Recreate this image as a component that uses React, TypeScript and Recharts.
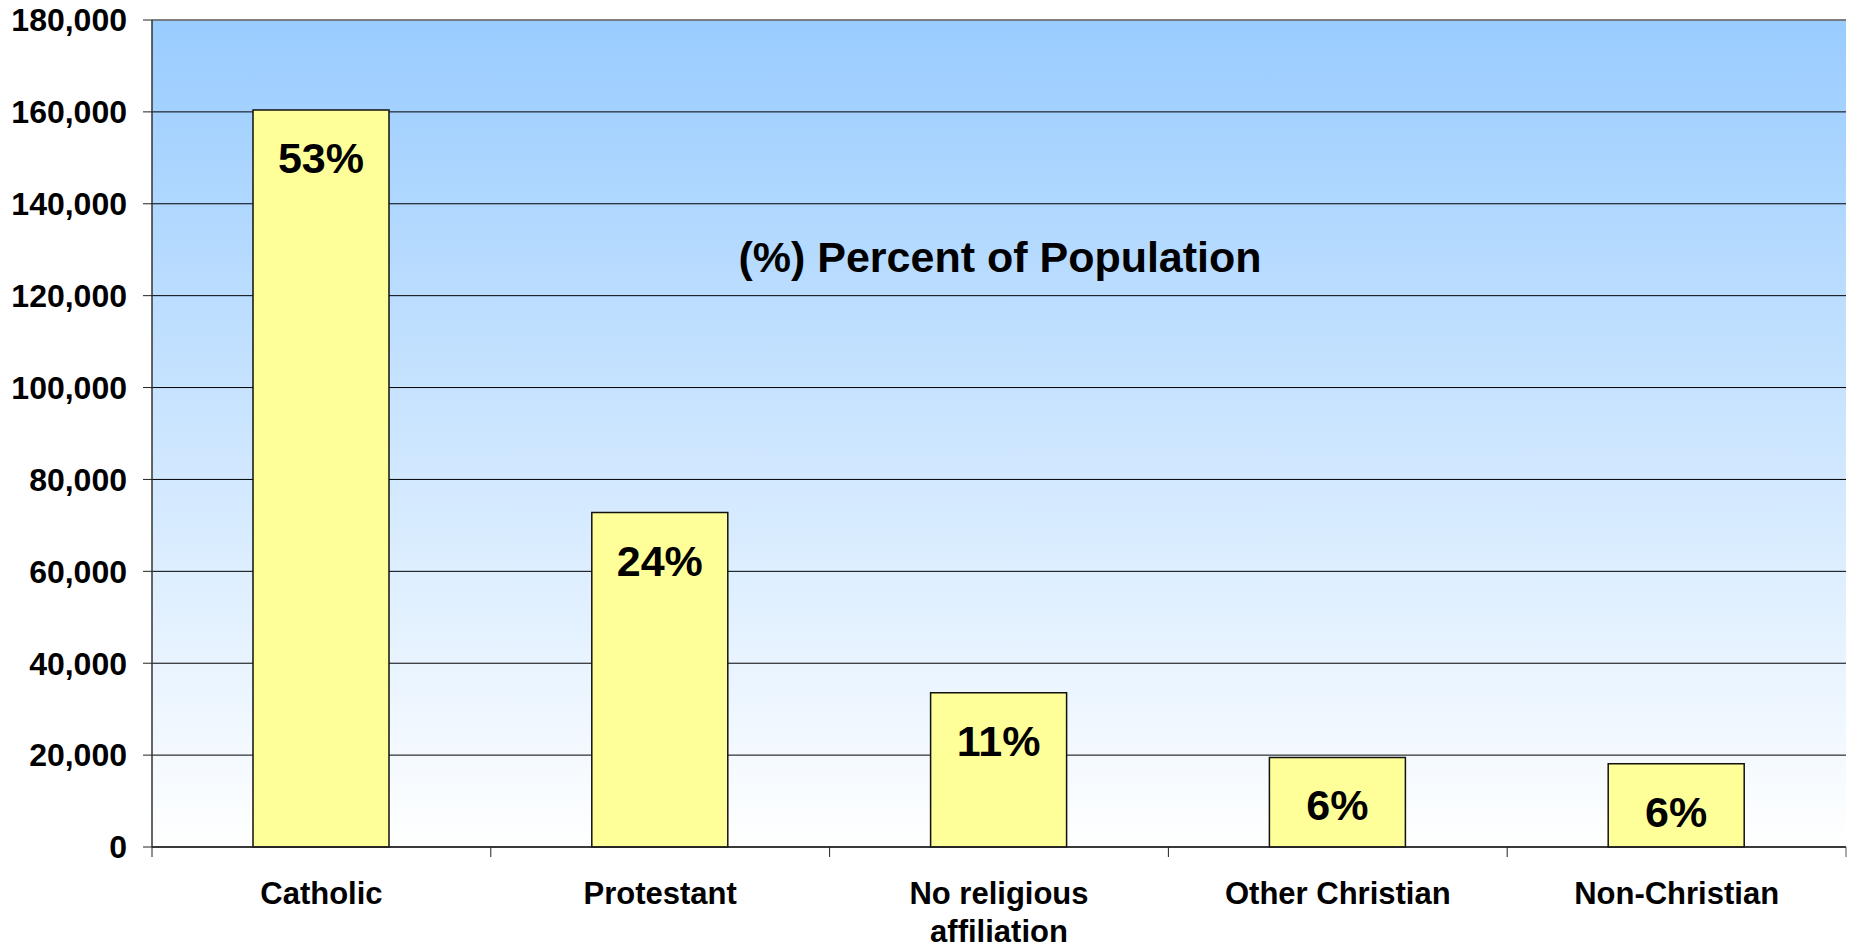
import {
    BarChart,
    Bar,
    XAxis,
    YAxis,
    CartesianGrid,
    LabelList,
    ReferenceLine,
} from "recharts";

const categories = [
    "Catholic",
    "Protestant",
    "No religious affiliation",
    "Other Christian",
    "Non-Christian",
];
const population = [160400, 72800, 33600, 19500, 18100];
const percentLabels = ["53%", "24%", "11%", "6%", "6%"];
const yTicks = [0, 20000, 40000, 60000, 80000, 100000, 120000, 140000, 160000, 180000];

const data = categories.map((name, i) => ({
    name,
    value: population[i],
    pct: percentLabels[i],
}));

const FONT = "'Liberation Sans', Arial, sans-serif";

// split long category names onto two lines like the original
function wrapLabel(label: string, max = 15) {
    const words = label.split(" ");
    const lines: string[] = [];
    let cur = "";
    words.forEach((w) => {
        const next = cur ? cur + " " + w : w;
        if (next.length > max && cur) {
            lines.push(cur);
            cur = w;
        } else {
            cur = next;
        }
    });
    if (cur) lines.push(cur);
    return lines;
}

function CategoryTick(props: any) {
    const { x, y, payload, index, width } = props;
    const band = (width || 1694) / categories.length;
    const lines = wrapLabel(String(payload.value));
    const left = x - band / 2;
    const right = x + band / 2;
    return (
        <g>
            <line x1={left} x2={left} y1={y} y2={y + 10} stroke="#222" strokeWidth={1} />
            {index === categories.length - 1 && (
                <line x1={right} x2={right} y1={y} y2={y + 10} stroke="#555" strokeWidth={1} />
            )}
            {lines.map((ln, i) => (
                <text
                    key={i}
                    x={x}
                    y={y + 46 + i * 38}
                    dy="0.35em"
                    textAnchor="middle"
                    fontFamily={FONT}
                    fontWeight="bold"
                    fontSize={31}
                    fill="#000"
                >
                    {ln}
                </text>
            ))}
        </g>
    );
}

function PctLabel(props: any) {
    const { x, y, width, value } = props;
    return (
        <text
            x={x + width / 2}
            y={y + 48}
            dy="0.35em"
            textAnchor="middle"
            fontFamily={FONT}
            fontWeight="bold"
            fontSize={43}
            fill="#000"
        >
            {value}
        </text>
    );
}

export default function App() {
    return (
        <div style={wrapStyle}>
            <BarChart
                width={1852}
                height={950}
                data={data}
                margin={{ top: 20, right: 6, bottom: 0, left: 0 }}
            >
                <defs>
                    <linearGradient id="plotBg" x1="0" y1="0" x2="0" y2="1">
                        <stop offset="0%" stopColor="#99ccff" />
                        <stop offset="100%" stopColor="#ffffff" />
                    </linearGradient>
                </defs>
                <CartesianGrid
                    yAxisId="left"
                    vertical={false}
                    stroke="#000"
                    strokeWidth={1}
                    fill="url(#plotBg)"
                    fillOpacity={1}
                />
                <XAxis
                    dataKey="name"
                    height={103}
                    tickLine={false}
                    tickSize={0}
                    tickMargin={0}
                    interval={0}
                    axisLine={{ stroke: "#222", strokeWidth: 1.5 }}
                    tick={<CategoryTick />}
                />
                <YAxis
                    yAxisId="left"
                    width={152}
                    domain={[0, 180000]}
                    ticks={yTicks}
                    interval={0}
                    tickSize={9}
                    tickMargin={16}
                    axisLine={{ stroke: "#333", strokeWidth: 1.5 }}
                    tickLine={{ stroke: "#222" }}
                    tickFormatter={(v: number) => v.toLocaleString("en-US")}
                    tick={{ fontFamily: FONT, fontWeight: "bold", fontSize: 32, fill: "#000" }}
                />
                <YAxis
                    yAxisId="right"
                    orientation="right"
                    width={0}
                    domain={[0, 180000]}
                    tick={false}
                    tickLine={false}
                    axisLine={{ stroke: "#808080", strokeWidth: 1.5 }}
                />
                <ReferenceLine yAxisId="left" y={180000} stroke="#808080" strokeWidth={1.5} />
                <Bar
                    yAxisId="left"
                    dataKey="value"
                    fill="#ffff99"
                    stroke="#111"
                    strokeWidth={1.5}
                    barSize={136}
                    isAnimationActive={false}
                >
                    <LabelList dataKey="pct" content={<PctLabel />} />
                </Bar>
            </BarChart>
            <div style={titleStyle}>(%) Percent of Population</div>
        </div>
    );
}

const wrapStyle: React.CSSProperties = {
    position: "absolute",
    left: 0,
    top: 0,
    width: 1852,
    height: 950,
    background: "#fff",
};

const titleStyle: React.CSSProperties = {
    position: "absolute",
    left: 1000,
    top: 257,
    transform: "translate(-50%, -50%)",
    whiteSpace: "nowrap",
    fontFamily: FONT,
    fontWeight: "bold",
    fontSize: 43,
    lineHeight: 1,
    color: "#000",
};
